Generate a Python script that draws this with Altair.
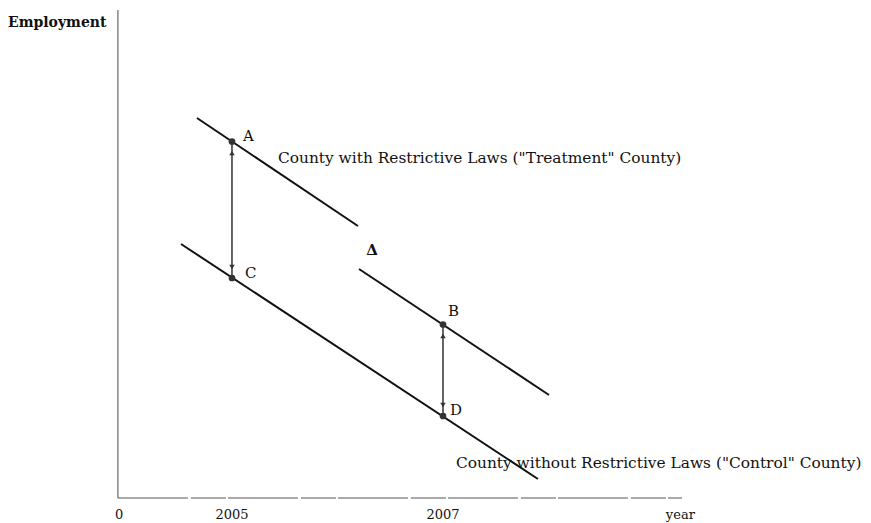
import altair as alt
import pandas as pd

# ---- data (x in years, y in employment units) ----
X_DOMAIN = [2002.877, 2010.981]
Y_DOMAIN = [-2.6, 48.9]

treat1_x = [2004.668, 2006.194]
treat1_y = [37.9, 27.1]
treat2_x = [2006.204, 2008.005]
treat2_y = [22.8, 10.2]
control_x = [2004.517, 2007.900]
control_y = [25.3, 1.8]

point_names = ["A", "C", "B", "D"]
point_x = [2005.0, 2005.0, 2007.0, 2007.0]
point_y = [35.55, 21.9, 17.25, 8.1]
name_x = [2005.104, 2005.123, 2007.047, 2007.066]
name_y = [36.1, 22.4, 18.6, 8.7]

arrow_x = [2005.0, 2007.0]
arrow_top = [35.55, 17.25]
arrow_bot = [21.9, 8.1]
head_x = [2005.0, 2005.0, 2007.0, 2007.0]
head_y = [34.4, 23.0, 16.1, 9.2]
head_shape = ["triangle-up", "triangle-down", "triangle-up", "triangle-down"]

series_labels = ['County with Restrictive Laws ("Treatment" County)',
                 'County without Restrictive Laws ("Control" County)']
series_label_x = [2005.436, 2007.123]
series_label_y = [33.9, 3.4]

delta_x = [2006.327]
delta_y = [24.7]

tick_labels = ["0", "2005", "2007", "year"]
tick_x = [2003.93, 2005.0, 2007.0, 2009.25]
tick_y = [-1.75, -1.75, -1.75, -1.75]

axis_origin = [2003.919, -0.1]
axis_x_end = 2009.265
axis_y_end = 48.7
y_title = "Employment"
y_title_pos = [2002.877, 47.4]

FONT = "DejaVu Serif"
INK = "#111111"

xs = alt.Scale(domain=X_DOMAIN, nice=False, zero=False)
ys = alt.Scale(domain=Y_DOMAIN, nice=False, zero=False)

def X(f="x"):
    return alt.X(f"{f}:Q", scale=xs, axis=None)

def Y(f="y"):
    return alt.Y(f"{f}:Q", scale=ys, axis=None)

# lines
rows = []
for name, xx, yy in [("t1", treat1_x, treat1_y), ("t2", treat2_x, treat2_y), ("c", control_x, control_y)]:
    for i, (a, b) in enumerate(zip(xx, yy)):
        rows.append({"series": name, "x": a, "y": b, "o": i})
lines_df = pd.DataFrame(rows)
lines = alt.Chart(lines_df).mark_line(color=INK, strokeWidth=2).encode(
    x=X(), y=Y(), detail="series:N", order="o:Q")

# axes
yaxis_df = pd.DataFrame({"x": [axis_origin[0]], "y": [axis_origin[1]], "y2": [axis_y_end]})
yaxis = alt.Chart(yaxis_df).mark_rule(color="#4a4a4a", strokeWidth=1).encode(
    x=X(), y=Y(), y2="y2:Q")
xaxis_df = pd.DataFrame({"x": [axis_origin[0]], "x2": [axis_x_end], "y": [axis_origin[1]]})
xaxis = alt.Chart(xaxis_df).mark_rule(color="#555555", strokeWidth=1, strokeDash=[70, 3, 35, 2]).encode(
    x=X(), x2="x2:Q", y=Y())

# double arrows
arr_df = pd.DataFrame({"x": arrow_x, "y": arrow_top, "y2": arrow_bot})
arrows = alt.Chart(arr_df).mark_rule(color="#333333", strokeWidth=1.5).encode(
    x=X(), y=Y(), y2="y2:Q")
heads_df = pd.DataFrame({"x": head_x, "y": head_y, "shape": head_shape})
heads = alt.Chart(heads_df).mark_point(filled=True, color="#333333", size=30, opacity=1).encode(
    x=X(), y=Y(), shape=alt.Shape("shape:N", scale=None, legend=None))

pts_df = pd.DataFrame({"x": point_x, "y": point_y, "name": point_names})
pts = alt.Chart(pts_df).mark_circle(color="#333333", size=45, opacity=1).encode(x=X(), y=Y())

names_df = pd.DataFrame({"x": name_x, "y": name_y, "name": point_names})
names = alt.Chart(names_df).mark_text(align="left", baseline="middle", font=FONT,
                                      fontSize=15, color=INK).encode(x=X(), y=Y(), text="name:N")

sl_df = pd.DataFrame({"x": series_label_x, "y": series_label_y, "t": series_labels})
slabels = alt.Chart(sl_df).mark_text(align="left", baseline="middle", font=FONT,
                                     fontSize=15.4, color=INK).encode(x=X(), y=Y(), text="t:N")

delta_df = pd.DataFrame({"x": delta_x, "y": delta_y, "t": ["Δ"]})
delta = alt.Chart(delta_df).mark_text(align="center", baseline="middle", font=FONT,
                                      fontSize=15, fontWeight="bold", color=INK).encode(x=X(), y=Y(), text="t:N")

tk_df = pd.DataFrame({"x": tick_x, "y": tick_y, "t": tick_labels})
ticks = alt.Chart(tk_df).mark_text(align="center", baseline="middle", font=FONT,
                                   fontSize=13, color=INK).encode(x=X(), y=Y(), text="t:N")

yt_df = pd.DataFrame({"x": [y_title_pos[0]], "y": [y_title_pos[1]], "t": [y_title]})
ytitle = alt.Chart(yt_df).mark_text(align="left", baseline="middle", font=FONT,
                                    fontSize=14, fontWeight="bold", color=INK).encode(x=X(), y=Y(), text="t:N")

chart = alt.layer(yaxis, xaxis, lines, arrows, heads, pts, names, slabels, delta, ticks, ytitle).properties(
    width=855, height=515, padding=0, background="white",
    autosize=alt.AutoSizeParams(type="none")
).configure_view(stroke=None)

chart.save("out.html", embed_options={"renderer": "svg", "actions": False})
